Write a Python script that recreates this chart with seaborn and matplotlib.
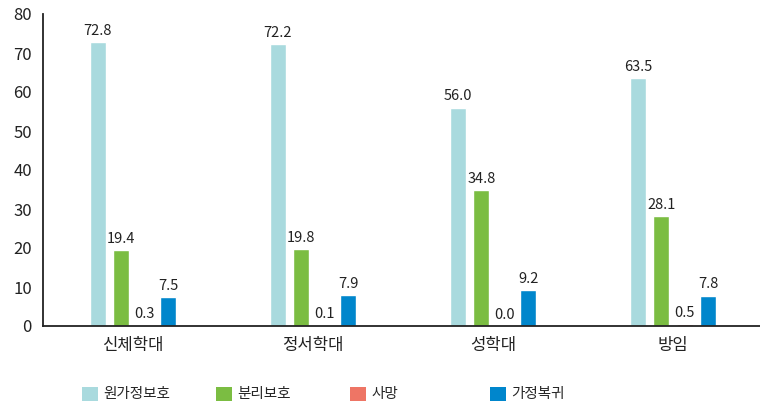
import matplotlib
matplotlib.use("Agg")
import matplotlib.pyplot as plt
import seaborn as sns
import pandas as pd
from matplotlib.patches import Patch
from matplotlib.ticker import FixedLocator

categories = ["신체학대", "정서학대", "성학대", "방임"]
series = ["원가정보호", "분리보호", "사망", "가정복귀"]
v_home = [72.8, 72.2, 56.0, 63.5]
v_sep = [19.4, 19.8, 34.8, 28.1]
v_death = [0.3, 0.1, 0.0, 0.5]
v_return = [7.5, 7.9, 9.2, 7.8]
colors = ["#a9dade", "#7bbd42", "#ee7565", "#0086cc"]
yticks = [0, 10, 20, 30, 40, 50, 60, 70, 80]

rows = []
for name, vals in zip(series, [v_home, v_sep, v_death, v_return]):
    for c, v in zip(categories, vals):
        rows.append({"cat": c, "series": name, "value": v})
df = pd.DataFrame(rows)

sns.set_theme(style="white")
plt.rcParams["font.family"] = ["Noto Sans CJK KR", "DejaVu Sans"]

fig = plt.figure(figsize=(7.6, 4.04), dpi=100)
ax = fig.add_axes([43/760, (404-326)/404, 720/760, 312/404])

sns.barplot(data=df, x="cat", y="value", hue="series", order=categories,
            hue_order=series, palette=colors, width=0.52, gap=0.3,
            saturation=1, legend=False, ax=ax, errorbar=None)

for cont in ax.containers:
    ax.bar_label(cont, fmt="%.1f", padding=3, fontsize=10.5, color="#222222")

ax.set_xlim(-0.5, 3.5)
ax.set_ylim(0, 80)
ax.set_yticks(yticks)
ax.set_xlabel("")
ax.set_ylabel("")
ax.spines["top"].set_visible(False)
ax.spines["right"].set_visible(False)
for s in ["left", "bottom"]:
    ax.spines[s].set_color("#222222")
    ax.spines[s].set_linewidth(1.3)

ax.tick_params(axis="y", direction="in", length=13, width=1.1, color="#222222",
               pad=8, labelsize=12, labelcolor="#222222")
ax.tick_params(axis="x", which="major", length=0, pad=8, labelsize=12,
               labelcolor="#222222")
ax.xaxis.set_minor_locator(FixedLocator([0.5, 1.5, 2.5]))
ax.tick_params(axis="x", which="minor", direction="in", length=4.5, width=1.2,
               color="#555555")

xs = [82, 216, 350, 490]
for name, col, x in zip(series, colors, xs):
    fig.legend(handles=[Patch(facecolor=col, edgecolor="none", label=name)],
               loc="center left", bbox_to_anchor=(x/760, 1 - 394/404),
               frameon=False, fontsize=10.5, handlelength=1.1, handleheight=1.1,
               handletextpad=0.35, borderpad=0, borderaxespad=0)

fig.savefig("out.png", dpi=100)
